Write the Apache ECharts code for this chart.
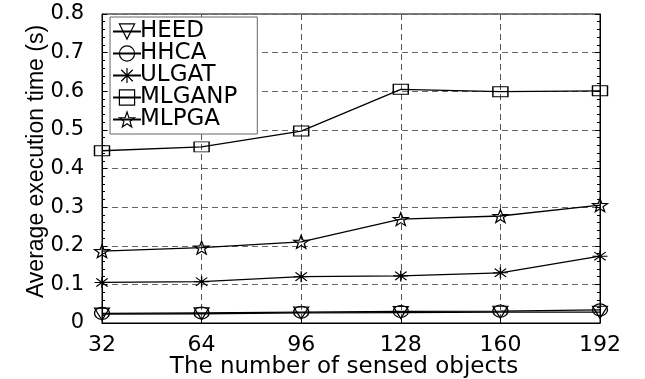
<!DOCTYPE html>
<html>
<head>
<meta charset="utf-8">
<script src="https://cdn.jsdelivr.net/npm/echarts@6/dist/echarts.min.js"></script>
<style>
  html, body { margin: 0; padding: 0; background: #fff; }
  #chart { width: 645px; height: 379px; }
</style>
</head>
<body>
<div id="chart"></div>
<script>
// Number of sensed objects on the horizontal axis
const objectCounts = ['32', '64', '96', '128', '160', '192'];

// Average execution time (s) for each algorithm
const heed   = [0.023, 0.024, 0.026, 0.027, 0.028, 0.028];
const hhca   = [0.025, 0.026, 0.028, 0.030, 0.031, 0.034];
const ulgat  = [0.105, 0.107, 0.120, 0.122, 0.130, 0.173];
const mlganp = [0.446, 0.456, 0.497, 0.605, 0.599, 0.601];
const mlpga  = [0.186, 0.195, 0.210, 0.269, 0.277, 0.305];

// Marker outlines
const triangleDown = 'path://M0,0L100,0L50,90Z';
const asterisk = 'path://M0,50L100,50M50,0L50,100M12,12L88,88M12,88L88,12';
const star = 'path://M50,0L61.8,33.8L97.6,34.5L69,56.2L79.4,90.5L50,70L20.6,90.5L31,56.2L2.4,34.5L38.2,33.8Z';

const FONT = 'DejaVu Sans';

function series(name, data, symbol, size) {
  return {
    name: name,
    type: 'line',
    data: data,
    symbol: symbol,
    symbolSize: size,
    showSymbol: true,
    z: 3,
    lineStyle: { color: '#000', width: 1.3 },
    itemStyle: { color: 'rgba(255,255,255,0)', borderColor: '#000', borderWidth: 1.2 },
    emphasis: { disabled: true }
  };
}

const chart = echarts.init(document.getElementById('chart'), null, { renderer: 'canvas' });

chart.setOption({
  animation: false,
  backgroundColor: '#fff',
  grid: {
    left: 102, right: 45, top: 14, bottom: 56,
    outerBoundsMode: 'none',
    containLabel: false,
    show: true, borderColor: '#000', borderWidth: 1, backgroundColor: 'transparent'
  },
  legend: {
    left: 110, top: 17,
    orient: 'vertical',
    itemGap: -1,
    itemWidth: 28, itemHeight: 19,
    padding: [3, 20, 3, 2],
    backgroundColor: '#fff',
    borderColor: '#666', borderWidth: 1,
    itemStyle: { color: 'rgba(255,255,255,0)', borderColor: '#000', borderWidth: 1.2 },
    textStyle: { fontFamily: FONT, fontSize: 23, color: '#000', padding: [0, 0, 0, -6] },
    data: ['HEED', 'HHCA', 'ULGAT', 'MLGANP', 'MLPGA']
  },
  xAxis: {
    type: 'category',
    data: objectCounts,
    boundaryGap: false,
    name: 'The number of sensed objects',
    nameLocation: 'middle',
    nameGap: 33,
    nameMoveOverlap: false,
    nameTextStyle: { fontFamily: FONT, fontSize: 23, color: '#000', padding: [0, 14, 0, 0] },
    axisLine: { lineStyle: { color: '#000', width: 1 } },
    axisTick: { show: true, inside: true, length: 4, lineStyle: { color: '#000' } },
    axisLabel: { fontFamily: FONT, fontSize: 22, color: '#000', margin: 11 },
    splitLine: { show: true, lineStyle: { color: '#555', type: [6, 4], width: 1 } }
  },
  yAxis: [{
    type: 'value',
    min: 0, max: 0.8, interval: 0.1,
    name: 'Average execution time (s)',
    nameLocation: 'middle',
    nameGap: 54,
    nameMoveOverlap: false,
    nameTextStyle: { fontFamily: 'Liberation Sans', fontSize: 23, color: '#000', padding: [0, 0, 0, 14] },
    axisLine: { show: true, lineStyle: { color: '#000', width: 1 } },
    axisTick: { show: true, inside: true, length: 5, lineStyle: { color: '#000' } },
    minorTick: { show: true, splitNumber: 5, length: 3, lineStyle: { color: '#000' } },
    axisLabel: {
      fontFamily: FONT, fontSize: 21, color: '#000', margin: 18,
      formatter: v => (v === 0 ? '0' : v.toFixed(1))
    },
    splitLine: { show: true, lineStyle: { color: '#666', type: [6, 4], width: 1 } }
  }, {
    type: 'value',
    position: 'right',
    min: 0, max: 0.8, interval: 0.1,
    axisLine: { show: true, lineStyle: { color: '#000', width: 1 } },
    axisTick: { show: true, inside: true, length: 5, lineStyle: { color: '#000' } },
    minorTick: { show: true, splitNumber: 5, length: 3, lineStyle: { color: '#000' } },
    axisLabel: { show: false },
    splitLine: { show: false }
  }],
  series: [
    series('HEED', heed, triangleDown, [15, 12]),
    series('HHCA', hhca, 'circle', [15, 12]),
    series('ULGAT', ulgat, asterisk, [15, 11]),
    series('MLGANP', mlganp, 'rect', [15, 10]),
    series('MLPGA', mlpga, star, [15, 13])
  ]
});
</script>
</body>
</html>
